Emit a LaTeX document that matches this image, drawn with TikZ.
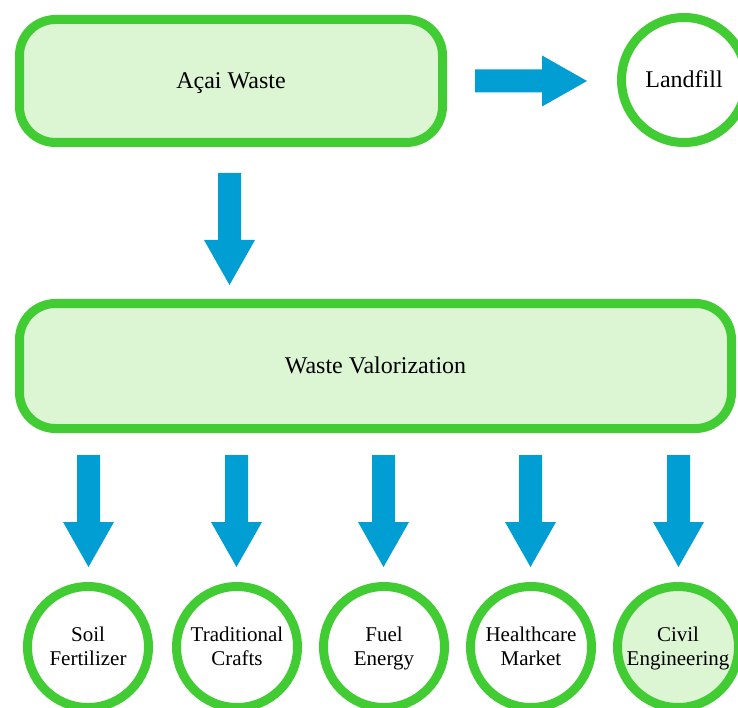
\documentclass[tikz,border=0pt]{standalone}
\usepackage{fontspec}
\setmainfont{Liberation Serif}
\definecolor{boxgreen}{RGB}{66,204,52}
\definecolor{boxfill}{RGB}{220,245,210}
\definecolor{arrowblue}{RGB}{0,158,210}
\newcommand\lbline[1]{\smash{#1}\rule{0pt}{0.66em}}
\tikzset{
  lbl/.style={font=\fontsize{21}{24}\selectfont, align=center, text=black},
  biglbl/.style={font=\fontsize{24}{28}\selectfont},
  roundbox/.style={lbl, biglbl, draw=boxgreen, line width=9pt, fill=boxfill, rounded corners=36pt, inner sep=0pt},
  ringnode/.style={lbl, draw=boxgreen, line width=9pt, fill=white, circle, inner sep=0pt, minimum size=121pt},
  blockarrow/.pic={\fill[arrowblue] (-11.5,0) -- (11.5,0) -- (11.5,67) -- (25.5,67) -- (0,112) -- (-25.5,67) -- (-11.5,67) -- cycle;}
}
\begin{document}
\begin{tikzpicture}[x=1pt,y=-1pt]
\useasboundingbox (0,0) rectangle (738,708);
\node[roundbox, minimum width=423pt, minimum height=123pt] (acai) at (231,81) {\lbline{Açai Waste}};
\node[ringnode, biglbl, minimum size=125pt] (landfill) at (684,80) {\lbline{Landfill}};
\node[roundbox, minimum width=712pt, minimum height=125pt] (valor) at (375.5,366) {\lbline{Waste Valorization}};
\node[ringnode] (soil) at (88,647) {\lbline{Soil}\\\lbline{Fertilizer}};
\node[ringnode] (crafts) at (237,647) {\lbline{Traditional}\\\lbline{Crafts}};
\node[ringnode] (fuel) at (384,647) {\lbline{Fuel}\\\lbline{Energy}};
\node[ringnode] (health) at (531,647) {\lbline{Healthcare}\\\lbline{Market}};
\node[ringnode, fill=boxfill] (civil) at (678,647) {\lbline{Civil}\\\lbline{Engineering}};
\pic at (229.5,173) {blockarrow};
\pic[rotate=90] at (475,81) {blockarrow};
\foreach \cx in {88.5,236.5,383.5,530.5,678.5} {
  \pic at (\cx,455) {blockarrow};
}
\end{tikzpicture}
\end{document}
